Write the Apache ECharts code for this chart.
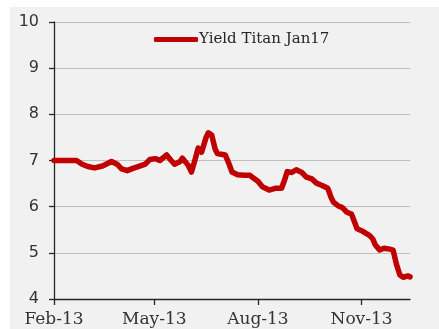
<!DOCTYPE html>
<html>
<head>
<meta charset="utf-8">
<style>
  html, body { margin: 0; padding: 0; background: #ffffff; }
  #chart { width: 439px; height: 329px; }
</style>
<script src="https://cdn.jsdelivr.net/npm/echarts@6/dist/echarts.min.js"></script>
</head>
<body>
<div id="chart"></div>
<script>
// Daily yield of the Titan Jan17 bond, 2013
const seriesName = 'Yield Titan Jan17';
const startDate = '2013-02-01';
const endDate = '2013-12-14';
const tickMonths = ['02', '05', '08', '11'];
const monthNames = ['Jan', 'Feb', 'Mar', 'Apr', 'May', 'Jun', 'Jul', 'Aug', 'Sep', 'Oct', 'Nov', 'Dec'];

const obsDates = [
  '2013-02-01', '2013-02-08', '2013-02-15', '2013-02-21', '2013-02-26',
  '2013-03-03', '2013-03-09', '2013-03-16', '2013-03-21', '2013-03-24',
  '2013-03-29', '2013-04-02', '2013-04-07', '2013-04-12', '2013-04-18',
  '2013-04-23', '2013-04-27', '2013-05-02', '2013-05-06', '2013-05-12',
  '2013-05-16', '2013-05-19', '2013-05-24', '2013-05-26', '2013-05-31',
  '2013-06-03', '2013-06-06', '2013-06-09', '2013-06-12', '2013-06-16',
  '2013-06-18', '2013-06-21', '2013-06-24', '2013-06-26', '2013-07-03',
  '2013-07-06', '2013-07-09', '2013-07-14', '2013-07-20', '2013-07-25',
  '2013-07-28', '2013-08-01', '2013-08-05', '2013-08-11', '2013-08-17',
  '2013-08-22', '2013-08-25', '2013-08-27', '2013-08-31', '2013-09-04',
  '2013-09-09', '2013-09-13', '2013-09-18', '2013-09-22', '2013-09-27',
  '2013-10-02', '2013-10-05', '2013-10-07', '2013-10-11', '2013-10-15',
  '2013-10-19', '2013-10-23', '2013-10-26', '2013-10-28', '2013-11-01',
  '2013-11-05', '2013-11-08', '2013-11-11', '2013-11-13', '2013-11-17',
  '2013-11-21', '2013-11-26', '2013-11-29', '2013-12-02', '2013-12-05',
  '2013-12-08', '2013-12-12', '2013-12-14'
];

const yields = [
  7.00, 7.00, 7.00, 7.00, 6.92,
  6.87, 6.84, 6.88, 6.94, 6.98,
  6.92, 6.82, 6.78, 6.83, 6.88,
  6.92, 7.02, 7.04, 7.00, 7.12,
  7.00, 6.92, 6.98, 7.05, 6.90,
  6.75, 7.00, 7.27, 7.18, 7.50,
  7.60, 7.55, 7.25, 7.15, 7.12,
  6.95, 6.75, 6.69, 6.68, 6.68,
  6.62, 6.55, 6.43, 6.36, 6.40,
  6.40, 6.60, 6.76, 6.74, 6.80,
  6.74, 6.64, 6.60, 6.51, 6.46,
  6.40, 6.20, 6.10, 6.02, 5.98,
  5.88, 5.84, 5.65, 5.52, 5.48,
  5.42, 5.38, 5.30, 5.18, 5.06,
  5.10, 5.08, 5.06, 4.75, 4.52,
  4.47, 4.50, 4.48
];

const yMin = 4;
const yMax = 10;
const yStep = 1;

// every calendar day between the first and last date forms the category axis
function pad(n) { return n < 10 ? '0' + n : '' + n; }
const days = [];
(function () {
  const d = new Date(startDate + 'T00:00:00Z');
  const end = new Date(endDate + 'T00:00:00Z');
  while (d <= end) {
    days.push(d.getUTCFullYear() + '-' + pad(d.getUTCMonth() + 1) + '-' + pad(d.getUTCDate()));
    d.setUTCDate(d.getUTCDate() + 1);
  }
})();

function isTickDay(value) {
  const parts = value.split('-');
  return parts[2] === '01' && tickMonths.indexOf(parts[1]) >= 0;
}

const lineData = obsDates.map((d, i) => [d, yields[i]]);

const chart = echarts.init(document.getElementById('chart'), null, { renderer: 'canvas' });
chart.setOption({
  animation: false,
  backgroundColor: '#ffffff',
  graphic: [{
    type: 'rect',
    z: -100,
    silent: true,
    shape: { x: 10, y: 7, width: 429, height: 322 },
    style: { fill: '#f1f1f1' }
  }],
  grid: { left: 54, right: 29, top: 22, bottom: 30, containLabel: false },
  legend: {
    left: 154,
    top: 32,
    padding: 0,
    itemWidth: 44,
    itemHeight: 5,
    itemGap: 0,
    data: [{ name: seriesName, icon: 'roundRect' }],
    itemStyle: { color: '#c00000' },
    textStyle: { fontFamily: 'DejaVu Serif', fontSize: 15, color: '#262626', padding: [0, 0, 0, -4] }
  },
  xAxis: {
    type: 'category',
    data: days,
    boundaryGap: false,
    axisLine: { show: true, lineStyle: { color: '#262626', width: 1.3 } },
    axisTick: {
      show: true,
      interval: (idx, val) => isTickDay(val),
      length: 6,
      lineStyle: { color: '#262626', width: 1.3 }
    },
    axisLabel: {
      interval: (idx, val) => isTickDay(val),
      margin: 12,
      fontFamily: 'DejaVu Serif',
      fontSize: 17,
      color: '#333333',
      formatter: (val) => {
        const p = val.split('-');
        return monthNames[parseInt(p[1], 10) - 1] + '-' + p[0].slice(2);
      }
    },
    splitLine: { show: false }
  },
  yAxis: {
    type: 'value',
    min: yMin,
    max: yMax,
    interval: yStep,
    axisLine: { show: true, lineStyle: { color: '#262626', width: 1.3 } },
    axisTick: { show: true, length: 5, lineStyle: { color: '#262626', width: 1.3 } },
    axisLabel: {
      margin: 15,
      fontFamily: 'DejaVu Sans',
      fontSize: 16,
      color: '#333333'
    },
    splitLine: { show: true, lineStyle: { color: '#bfbfbf', width: 1 } }
  },
  series: [{
    name: seriesName,
    type: 'line',
    data: lineData,
    showSymbol: false,
    symbol: 'none',
    smooth: false,
    lineStyle: { color: '#c00000', width: 5.5, join: 'round', cap: 'round' },
    itemStyle: { color: '#c00000' }
  }]
});
</script>
</body>
</html>
